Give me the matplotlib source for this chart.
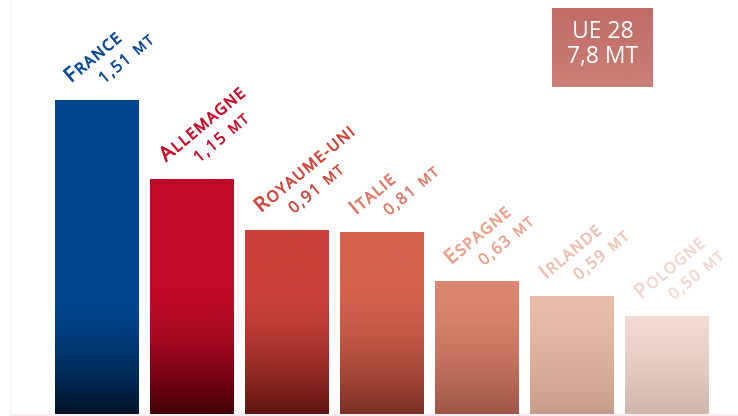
import numpy as np
import matplotlib
matplotlib.use("Agg")
import matplotlib.pyplot as plt
import matplotlib.patheffects as pe
from matplotlib.font_manager import FontProperties
from matplotlib.colors import to_rgb
from matplotlib.lines import Line2D

# ---------------- data ----------------
countries = ["France", "Allemagne", "Royaume-uni", "Italie", "Espagne", "Irlande", "Pologne"]
values = [1.51, 1.15, 0.91, 0.81, 0.63, 0.59, 0.50]          # MT (labels)
bar_heights = [1.51, 1.13, 0.885, 0.875, 0.635, 0.565, 0.47]  # heights as drawn in the picture
total_lines = ["UE 28", "7,8 MT"]

top_colors = ["#00468F", "#C00A28", "#C9413A", "#D4624F", "#DB8670", "#E9BEAE", "#F4DED5"]
bottom_colors = ["#001428", "#400006", "#5E1410", "#7A3024", "#9E5646", "#C79C8C", "#D0B6AC"]
text_colors = ["#0B4A97", "#C8102E", "#D04A3E", "#E07C68", "#EBA38E", "#EFC2B2", "#F3D8CE"]

# ---------------- figure ----------------
W, H = 738, 416
fig = plt.figure(figsize=(W / 100, H / 100), dpi=100)
ax = fig.add_axes([0, 2 / H, 1, 414 / H])
px_per_unit = 207.9
step_px = 95.0
ax.set_xlim(-97 / step_px, (W - 97) / step_px)
ax.set_ylim(0, 414 / px_per_unit)
ax.axis("off")

# faint frame lines
fig.add_artist(Line2D([11 / W, 11 / W], [1.5 / H, 1], transform=fig.transFigure, color="#F8EFF2", lw=1))
fig.add_artist(Line2D([11 / W, 1], [1.5 / H, 1.5 / H], transform=fig.transFigure, color="#F6EAEE", lw=1.2))

bar_w = 84 / step_px
x = np.arange(len(countries))

N = 300
for i, h in enumerate(bar_heights):
    ys = np.linspace(0, h, N)
    t = np.clip(1 - ys / 0.6, 0, 1) ** 1.6
    top = np.array(to_rgb(top_colors[i]))
    bot = np.array(to_rgb(bottom_colors[i]))
    cols = top[None, :] * (1 - t[:, None]) + bot[None, :] * t[:, None]
    ax.imshow(cols[:, None, :], extent=[x[i] - bar_w / 2, x[i] + bar_w / 2, 0, h],
              origin="lower", aspect="auto", interpolation="bilinear", zorder=2)

# ---------------- labels (small caps, rotated) ----------------
FONT = "Open Sans"
WEIGHT = "normal"
ROT = 40.0
cs, sn = np.cos(np.radians(ROT)), np.sin(np.radians(ROT))
renderer = fig.canvas.get_renderer()
TRACK = 1.6  # px extra spacing


def char_width(ch, fp):
    if ch == " ":
        return 0.30 * fp.get_size_in_points() * 100 / 72
    w, _, _ = renderer.get_text_width_height_descent(ch, fp, ismath=False)
    return w


def draw_line(anchor, start_px, segments, color, stroke):
    pos = 0.0
    for text, size in segments:
        fp = FontProperties(family=FONT, size=size, weight=WEIGHT)
        for ch in text:
            if ch != " ":
                dx = start_px[0] + pos * cs
                dy = start_px[1] + pos * sn
                ax.annotate(ch, xy=anchor, xycoords="data", xytext=(dx * 0.72, dy * 0.72),
                            textcoords="offset points", rotation=ROT, rotation_mode="anchor",
                            ha="left", va="baseline", fontproperties=fp, color=color,
                            annotation_clip=False, zorder=3,
                            path_effects=[pe.withStroke(linewidth=stroke, foreground=color)])
            pos += char_width(ch, fp) + TRACK


BIG, SMALL, NUM, MT = 14.5, 11.0, 11.5, 10.0
for i, name in enumerate(countries):
    anchor = (x[i] - bar_w / 2, bar_heights[i])
    up = name.upper()
    draw_line(anchor, (16, 17), [(up[0], BIG), (up[1:], SMALL)], text_colors[i], 0.6)
    num = f"{values[i]:.2f}".replace(".", ",")
    draw_line(anchor, (49, 16), [(num, NUM), (" ", NUM), ("MT", MT)], text_colors[i], 0.35)

# ---------------- total box ----------------
bx = fig.add_axes([552 / W, 1 - 87 / H, 101 / W, 79 / H])
bx.set_xlim(0, 1)
bx.set_ylim(0, 1)
bx.axis("off")
g = np.linspace(0, 1, 100)
c_top = np.array(to_rgb("#BF6C66"))
c_bot = np.array(to_rgb("#CA7F76"))
box_cols = c_bot[None, :] * (1 - g[:, None]) + c_top[None, :] * g[:, None]
bx.imshow(box_cols[:, None, :], extent=[0, 1, 0, 1], origin="lower", aspect="auto")
for k, txt in enumerate(total_lines):
    yc = 32 if k == 0 else 57
    bx.text(0.5, 1 - (yc - 8) / 79, txt, ha="center", va="center", color="white",
            fontsize=16.5, family="Open Sans", weight="normal")

fig.savefig("out.png", dpi=100)
